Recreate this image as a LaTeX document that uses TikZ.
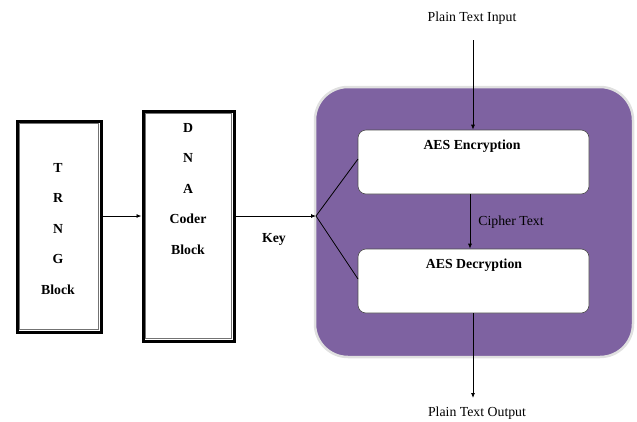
\documentclass[tikz,border=0pt]{standalone}
\usepackage{fontspec}
\setmainfont{Liberation Serif}
\usetikzlibrary{arrows.meta}
\definecolor{aespurple}{HTML}{7E62A1}
\tikzset{
  blockframe/.style={draw=black, line width=3pt, fill=white, inner sep=0pt},
  aesbox/.style={draw=black!70, line width=0.6pt, fill=white, rounded corners=8pt, inner sep=0pt,
                 minimum width=231pt, minimum height=64pt},
  blocktext/.style={font=\fontsize{13.8}{30.5}\selectfont\bfseries, align=center, inner sep=0pt},
  plain/.style={font=\fontsize{13.8}{16}\selectfont, inner sep=0pt},
  boldlabel/.style={font=\fontsize{13.8}{16}\selectfont\bfseries, inner sep=0pt},
  conn/.style={line width=0.8pt, -{Latex[length=5pt,width=4pt]}},
  fork/.style={line width=0.8pt},
}
\begin{document}
\begin{tikzpicture}[x=1pt,y=-1pt]
\useasboundingbox (0,0) rectangle (637,421);

% outer purple enclosure of the AES pair
\node[draw=black!12, line width=2.5pt, fill=aespurple, rounded corners=33pt,
      minimum width=318pt, minimum height=270pt, inner sep=0pt] (aes) at (474,222) {};

% TRNG block
\node[blockframe, minimum width=84pt, minimum height=211pt] (trng) at (59,226.5) {};
\draw[black!55, line width=0.7pt] ([shift={(4pt,-4pt)}]trng.north west) rectangle ([shift={(-4pt,4pt)}]trng.south east);
\node[blocktext] (trngtxt) at (58,229) {T\\R\\N\\G\\Block};

% DNA coder block
\node[blockframe, minimum width=91pt, minimum height=230pt] (dna) at (188.5,226) {};
\draw[black!55, line width=0.7pt] ([shift={(4pt,-4pt)}]dna.north west) rectangle ([shift={(-4pt,4pt)}]dna.south east);
\node[blocktext] (dnatxt) at (188,189) {D\\N\\A\\Coder\\Block};

% AES stages
\node[aesbox] (enc) at (473.5,162) {};
\node[boldlabel] (enctxt) at (472,146) {AES Encryption};
\node[aesbox] (dec) at (473.5,281) {};
\node[boldlabel] (dectxt) at (474,265) {AES Decryption};

% key split point
\coordinate (split) at (316,216);
\coordinate (encin) at (358,159);
\coordinate (decin) at (358,279);

% labels
\node[plain] (ptin) at (472,18) {Plain Text Input};
\node[plain] (ptout) at (477,413) {Plain Text Output};
\node[plain] (cipher) at (511,222) {Cipher Text};
\node[boldlabel] (key) at (274,239) {Key};

% connectors
\coordinate (inTop) at (473,40);
\coordinate (outBot) at (473,398);
\draw[conn] (trng.east |- 0,216) -- (dna.west |- 0,216);
\draw[conn] (dna.east |- 0,216) -- (split);
\draw[fork] (split) -- (encin);
\draw[fork] (split) -- (decin);
\draw[conn] (inTop) -- (inTop |- enc.north);
\draw[conn] (470,194) coordinate (c1) -- (c1 |- dec.north);
\draw[conn] (outBot |- dec.south) -- (outBot);
\end{tikzpicture}
\end{document}
